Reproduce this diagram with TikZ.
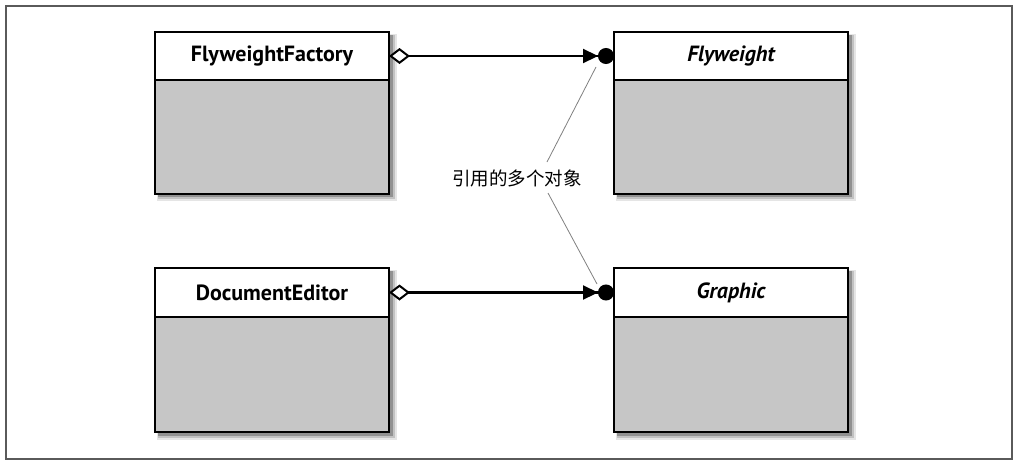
\documentclass[tikz,border=0pt]{standalone}
\usepackage{fontspec}
\setmainfont{PT Sans}
\newfontfamily\cjk{Noto Sans CJK SC}
\usetikzlibrary{arrows.meta,shadows}
\definecolor{bodygray}{RGB}{198,198,198}
\definecolor{framegray}{RGB}{90,90,90}
\tikzset{
  classhead/.style={draw=black, line width=2.8pt, fill=white, minimum width=234pt, minimum height=48pt, inner sep=0pt, outer sep=0pt, font=\bfseries\fontsize{22}{24}\selectfont},
  classbody/.style={draw=black, line width=2.8pt, fill=bodygray, minimum width=234pt, minimum height=114pt, inner sep=0pt, outer sep=0pt},
  assoc/.style={line width=2.2pt, {Diamond[open, fill=white, length=21pt, width=16pt, line width=2pt]}-{Triangle[length=15pt, width=14pt] Circle[length=16pt]}},
  leader/.style={draw=gray, line width=0.8pt},
  note/.style={font=\cjk\fontsize{18.5}{20}\selectfont, inner sep=0pt}
}
\begin{document}
\begin{tikzpicture}[x=1pt,y=-1pt]
\useasboundingbox (0,0) rectangle (1020,469);
\fill[white] (0,0) rectangle (1020,469);
\draw[framegray, line width=1.6pt] (6,6) rectangle (1012,459);
% shadows
\foreach \x/\y/\h in {155/32/161, 614/32/161, 155/268/164, 614/268/164}{
  \fill[black, opacity=0.10] (\x+2,\y+2) rectangle (\x+234+8,\y+\h+8);
  \fill[black, opacity=0.15] (\x+3,\y+3) rectangle (\x+234+6,\y+\h+6);
  \fill[black, opacity=0.25] (\x+3,\y+3) rectangle (\x+234+4,\y+\h+4);
}
% classes
\node[classhead, anchor=north west] (ff) at (155,32) {FlyweightFactory};
\node[classbody, anchor=north west] (ffb) at (155,80) {};
\node[classhead, anchor=north west] (fw) at (614,32) {\itshape Flyweight};
\node[classbody, anchor=north west] (fwb) at (614,80) {};
\node[classhead, anchor=north west, minimum height=49pt] (de) at (155,268) {DocumentEditor};
\node[classbody, anchor=north west, minimum height=115pt] (deb) at (155,317) {};
\node[classhead, anchor=north west, minimum height=49pt] (gr) at (614,268) {\itshape Graphic};
\node[classbody, anchor=north west, minimum height=115pt] (grb) at (614,317) {};
% associations
\draw[assoc] (ff.east) -- (fw.west);
\draw[assoc] (de.east) -- (gr.west);
% note
\node[note] (lbl) at (517,178) {引用的多个对象};
\coordinate (la) at (547,162);
\coordinate (lb) at (596,67);
\coordinate (lc) at (548,193);
\coordinate (ld) at (597,284);
\draw[leader] (la) -- (lb);
\draw[leader] (lc) -- (ld);
\end{tikzpicture}
\end{document}
